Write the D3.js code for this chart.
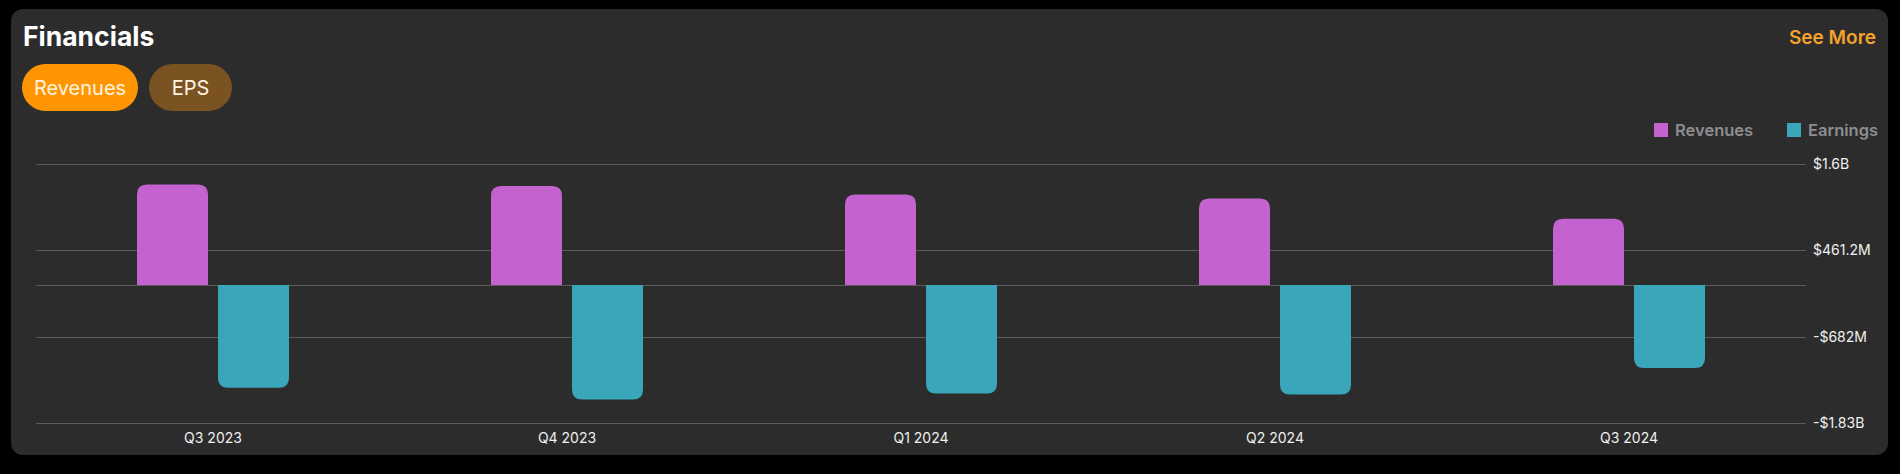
<!DOCTYPE html>
<html>
<head>
<meta charset="utf-8">
<script src="https://cdn.jsdelivr.net/npm/d3@7"></script>
<style>
  html, body { margin: 0; padding: 0; background: #000; }
  svg { display: block; }
  text { font-family: Inter, "Noto Sans", sans-serif; }
</style>
</head>
<body>
<svg id="chart" width="1900" height="474"></svg>
<script>
// ---- data ----
const categories = ["Q3 2023", "Q4 2023", "Q1 2024", "Q2 2024", "Q3 2024"];
const revenues = [1333e6, 1311e6, 1201e6, 1148e6, 879e6];
const earnings = [-1359e6, -1514e6, -1434e6, -1448e6, -1099e6];
const tickValues = [1.6e9, 461.2e6, -682e6, -1.83e9];
const tickLabels = ["$1.6B", "$461.2M", "-$682M", "-$1.83B"];
const seriesNames = ["Revenues", "Earnings"];
const seriesColors = ["#C462CF", "#3AA6B9"];
const tabs = ["Revenues", "EPS"];

const svg = d3.select("#chart");
svg.append("rect").attr("width", 1900).attr("height", 474).attr("fill", "#000");
svg.append("rect").attr("x", 11).attr("y", 9).attr("width", 1877).attr("height", 446)
  .attr("rx", 12).attr("fill", "#2c2c2c");

// title
svg.append("text").attr("x", 23).attr("y", 46).text("Financials")
  .attr("fill", "#fff").attr("font-size", 26.5).attr("font-weight", 700);
svg.append("text").attr("x", 1876).attr("y", 44).attr("text-anchor", "end").text("See More")
  .attr("fill", "#F4A12E").attr("font-size", 19).attr("font-weight", 600);

// tabs
const tabGeom = [{x: 22, w: 116, fill: "#FF9500"}, {x: 149, w: 83, fill: "#7B5323"}];
tabs.forEach((t, i) => {
  const g = tabGeom[i];
  svg.append("rect").attr("x", g.x).attr("y", 64).attr("width", g.w).attr("height", 47)
    .attr("rx", 23.5).attr("fill", g.fill);
  svg.append("text").attr("x", g.x + g.w / 2).attr("y", 88).attr("dy", "0.35em")
    .attr("text-anchor", "middle").text(t).attr("fill", "#FFF4E2").attr("font-size", 20);
});

// legend
const legendX = [1654, 1787];
seriesNames.forEach((n, i) => {
  svg.append("rect").attr("x", legendX[i]).attr("y", 123).attr("width", 14).attr("height", 14)
    .attr("fill", seriesColors[i]);
  svg.append("text").attr("x", legendX[i] + 21).attr("y", 136).text(n)
    .attr("fill", "#8e8e90").attr("font-size", 16.5).attr("font-weight", 600);
});

// scales
const x = d3.scaleBand().domain(categories).range([36, 1806]).padding(0);
const y = d3.scaleLinear().domain([-1.83e9, 1.6e9]).range([423.3, 164.3]);

// grid
const grid = svg.append("g");
tickValues.concat([0]).forEach(v => {
  grid.append("line").attr("x1", 36).attr("x2", 1806)
    .attr("y1", Math.round(y(v)) + 0.5).attr("y2", Math.round(y(v)) + 0.5)
    .attr("stroke", "#5c5c5c").attr("stroke-width", 1);
});

// y axis labels
const yAxis = d3.axisRight(y).tickValues(tickValues)
  .tickFormat((d, i) => tickLabels[i]).tickSize(0).tickPadding(0);
const yg = svg.append("g").attr("transform", "translate(1813,0)").call(yAxis);
yg.select(".domain").remove();
yg.selectAll("text").attr("fill", "#f0f0f0").attr("font-size", 14).attr("font-family", "Inter, sans-serif");

// x axis labels
const xAxis = d3.axisBottom(x).tickSize(0).tickPadding(0);
const xg = svg.append("g").attr("transform", "translate(0,433)").call(xAxis);
xg.select(".domain").remove();
xg.selectAll("text").attr("fill", "#f0f0f0").attr("font-size", 14).attr("font-family", "Inter, sans-serif");

// bars
function barPath(x0, w, yBase, yEnd, r) {
  const up = yEnd < yBase;
  const h = Math.abs(yEnd - yBase);
  r = Math.min(r, h, w / 2);
  if (up) {
    return `M${x0},${yBase} L${x0},${yEnd + r} Q${x0},${yEnd} ${x0 + r},${yEnd} L${x0 + w - r},${yEnd} Q${x0 + w},${yEnd} ${x0 + w},${yEnd + r} L${x0 + w},${yBase} Z`;
  } else {
    return `M${x0},${yBase} L${x0},${yEnd - r} Q${x0},${yEnd} ${x0 + r},${yEnd} L${x0 + w - r},${yEnd} Q${x0 + w},${yEnd} ${x0 + w},${yEnd - r} L${x0 + w},${yBase} Z`;
  }
}
const barW = 71, gap = 5;
const series = [revenues, earnings];
categories.forEach((c, i) => {
  const cx = x(c) + x.bandwidth() / 2;
  series.forEach((s, j) => {
    const x0 = j === 0 ? cx - gap - barW : cx + gap;
    svg.append("path").attr("d", barPath(x0, barW, y(0), y(s[i]), 10))
      .attr("fill", seriesColors[j]);
  });
});
</script>
</body>
</html>
